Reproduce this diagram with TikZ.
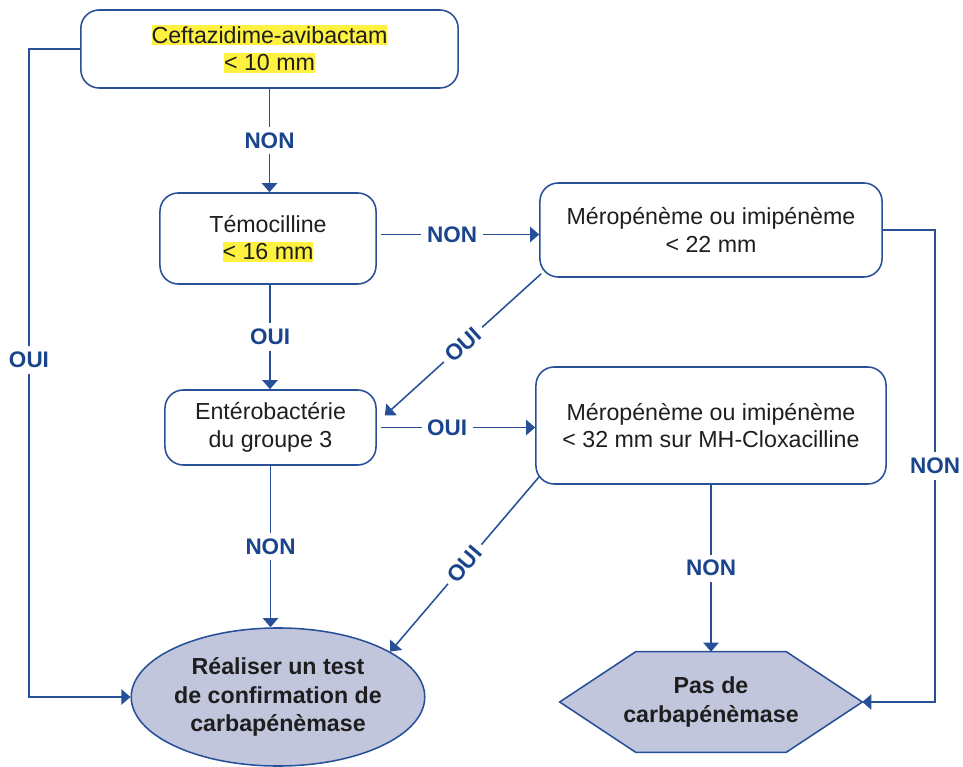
\documentclass[tikz,border=0pt]{standalone}
\usepackage{fontspec}
\setmainfont{Liberation Sans}
\usetikzlibrary{arrows.meta,shapes.geometric,backgrounds}
\definecolor{flowblue}{RGB}{40,80,152}
\definecolor{labelblue}{RGB}{26,68,140}
\definecolor{termfill}{RGB}{194,198,221}
\definecolor{hlyellow}{RGB}{255,241,64}
\definecolor{txtdark}{RGB}{30,30,30}
\newcommand{\hlt}[1]{{\setlength{\fboxsep}{0pt}\colorbox{hlyellow}{\rule[-0.08em]{0pt}{0.86em}#1}}}
\tikzset{
  testbox/.style={draw=flowblue, line width=1.1pt, rounded corners=13pt, align=center, text=txtdark, inner sep=2pt, font=\fontsize{16.5}{19.5}\selectfont},
  endbox/.style={fill=termfill, align=center, text=txtdark, inner sep=0pt, font=\bfseries\fontsize{16.5}{20}\selectfont},
  flow/.style={draw=flowblue, line width=1.1pt, -{Triangle[width=11pt,length=6.5pt]}},
  lbl/.style={fill=white, text=labelblue, inner sep=4pt, font=\bfseries\fontsize{16}{19}\selectfont}
}

\begin{document}
\begin{tikzpicture}[x=0.025cm, y=-0.025cm]
\useasboundingbox (0,0) rectangle (963,767);
% Tests
\node[testbox, minimum width=9.43cm, minimum height=1.95cm] (cza) at (269.5,49) {\hlt{Ceftazidime-avibactam}\\\hlt{< 10 mm}};
\node[testbox, minimum width=5.4cm, minimum height=2.275cm] (temo) at (268,238.5) {Témocilline\\\hlt{< 16 mm}};
\node[testbox, minimum width=8.55cm, minimum height=2.35cm] (mero) at (711,230) {Méropénème ou imipénème\\< 22 mm};
\node[testbox, minimum width=5.275cm, minimum height=1.875cm] (grp) at (270.5,427.5) {Entérobactérie\\du groupe 3};
\node[testbox, minimum width=8.75cm, minimum height=2.925cm] (cloxa) at (711,425.5) {Méropénème ou imipénème\\< 32 mm sur MH-Cloxacilline};
% Conclusions
\node[endbox, draw=flowblue, line width=1.1pt, ellipse, minimum width=7.25cm, minimum height=3.45cm] (conf) at (278,697) {Réaliser un test\\de confirmation de\\carbapénèmase};
\node[endbox, fill=none, minimum width=7.55cm, minimum height=2.5cm] (pas) at (711,702) {Pas de\\carbapénèmase};
\begin{scope}[on background layer]
\draw[draw=flowblue, fill=termfill, line width=1.1pt, line join=miter] (pas.west) -- ([xshift=1.9cm]pas.north west) -- ([xshift=-1.9cm]pas.north east) -- (pas.east) -- ([xshift=-1.9cm]pas.south east) -- ([xshift=1.9cm]pas.south west) -- cycle;
\end{scope}
% Outer lines
\coordinate (lft) at (29,0);
\coordinate (rgt) at (935,0);
\draw[flow] (cza.west) -- (cza.west -| lft) -- node[lbl, pos=0.48] {OUI} (conf.west -| lft) -- (conf.west);
\draw[flow] (mero.east) -- (mero.east -| rgt) -- node[lbl] {NON} (pas.east -| rgt) -- (pas.east);
% Inner connectors
\draw[flow] (cza.south) -- node[lbl] {NON} (cza.south |- temo.north);
\draw[flow] ([xshift=0.1cm,yshift=0.1cm]temo.east) -- node[lbl, pos=0.45] {NON} ([yshift=0.1cm]temo.east -| mero.west);
\draw[flow] ([xshift=0.05cm]temo.south) -- node[lbl] {OUI} ([xshift=0.05cm]temo.south |- grp.north);
\draw[flow] ([xshift=0.1cm]grp.east) -- node[lbl, pos=0.43] {OUI} (grp.east -| cloxa.west);
\draw[flow] (grp.south) -- node[lbl] {NON} (grp.south |- conf.north);
\draw[flow] (cloxa.south) -- node[lbl] {NON} (pas.north);
\draw[flow] ([shift={(0.05cm,0.1cm)}]mero.south west) -- node[lbl, sloped] {OUI} ([shift={(0.2cm,0.3cm)}]grp.east);
\draw[flow] ([shift={(0.1cm,0.2cm)}]cloxa.south west) -- node[lbl, sloped] {OUI} (conf.22);
\end{tikzpicture}
\end{document}
